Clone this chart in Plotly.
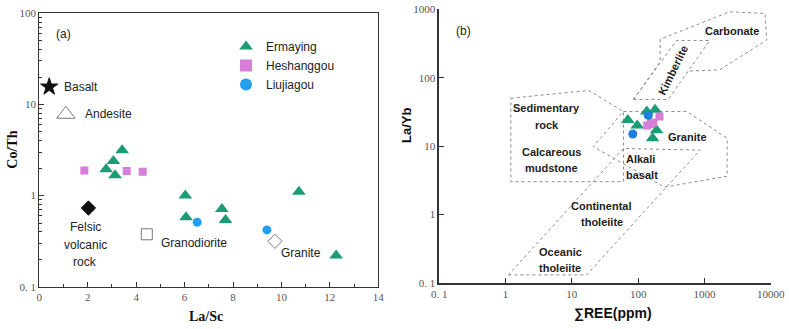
import numpy as np
import plotly.graph_objects as go

# ---------------- Panel (a): La/Sc vs Co/Th ----------------
erm_a_x = [2.76, 3.06, 3.13, 3.42, 6.03, 6.06, 7.54, 7.69, 10.72, 12.26]
erm_a_y = [1.95, 2.4, 1.67, 3.15, 1.0, 0.58, 0.71, 0.54, 1.10, 0.22]
hes_a_x = [1.86, 3.61, 4.27]
hes_a_y = [1.88, 1.86, 1.82]
liu_a_x = [6.52, 9.40]
liu_a_y = [0.51, 0.42]

ref_names = ["Basalt", "Andesite", "Felsic volcanic rock", "Granodiorite", "Granite"]
ref_x = [0.41, 1.10, 2.03, 4.44, 9.73]
ref_y = [15.6, 7.8, 0.73, 0.376, 0.315]

# ---------------- Panel (b): ΣREE vs La/Yb ----------------
erm_b_x = [70, 97, 135, 180, 190, 165]
erm_b_y = [24, 20, 32, 34, 17, 13]
hes_b_x = [137, 155, 170, 210]
hes_b_y = [20, 21, 22, 27]
liu_b_x = [83, 142]
liu_b_y = [15, 28]

# field boundaries (ΣREE ppm, La/Yb)
sed_x = [1.2, 18, 60, 60, 1.2, 1.2]
sed_y = [50, 65, 32, 3.0, 3.0, 50]
gra_x = [60, 540, 2200, 2200, 250, 21, 60]
gra_y = [32, 32, 13, 3.6, 2.5, 9.8, 32]
tho_x = [1.1, 16.7, 860, 60, 1.1]
tho_y = [0.13, 0.13, 8.7, 9.2, 0.13]
kim_x = [85, 285, 1200, 380, 85]
kim_y = [48, 48, 350, 350, 48]
carb_x = [85, 215, 215, 2400, 8200, 8700, 1700, 600]
carb_y = [48, 170, 365, 920, 870, 355, 130, 125]

GREEN = "#1b9c74"
PINK = "#d67ed8"
BLUE = "#22a0ef"
BLUE_B = "#1d80e0"
GRAY = "#7a7a7a"
AX = "#333333"
SERIF = "Times New Roman, Liberation Serif, serif"
SANS = "Arial, Liberation Sans, sans-serif"

fig = go.Figure()

# panel (a) sample data
fig.add_trace(go.Scatter(x=erm_a_x, y=erm_a_y, mode="markers", name="Ermaying",
                         marker=dict(symbol="triangle-up", size=12, color=GREEN),
                         xaxis="x", yaxis="y"))
fig.add_trace(go.Scatter(x=hes_a_x, y=hes_a_y, mode="markers", name="Heshanggou",
                         marker=dict(symbol="square", size=8, color=PINK),
                         xaxis="x", yaxis="y"))
fig.add_trace(go.Scatter(x=liu_a_x, y=liu_a_y, mode="markers", name="Liujiagou",
                         marker=dict(symbol="circle", size=9, color=BLUE),
                         xaxis="x", yaxis="y"))

# reference rocks
ref_sym = ["star", "triangle-up-open", "diamond", "square-open", "diamond-open"]
ref_col = ["#111111", GRAY, "#111111", GRAY, GRAY]
ref_size = [13, 16, 11, 11, 11]
for i in range(len(ref_names)):
    fig.add_trace(go.Scatter(x=[ref_x[i]], y=[ref_y[i]], mode="markers", showlegend=False,
                             marker=dict(symbol=ref_sym[i], size=ref_size[i], color=ref_col[i],
                                         line=dict(width=1, color=ref_col[i])),
                             xaxis="x", yaxis="y"))

# panel (b) field boundaries
for px_, py_ in [(sed_x, sed_y), (gra_x, gra_y), (tho_x, tho_y), (kim_x, kim_y), (carb_x, carb_y)]:
    fig.add_trace(go.Scatter(x=px_, y=py_, mode="lines", showlegend=False, hoverinfo="skip",
                             line=dict(color="#8a8a8a", width=1, dash="dot"),
                             xaxis="x2", yaxis="y2"))

fig.add_trace(go.Scatter(x=erm_b_x, y=erm_b_y, mode="markers", showlegend=False,
                         marker=dict(symbol="triangle-up", size=12, color=GREEN),
                         xaxis="x2", yaxis="y2"))
fig.add_trace(go.Scatter(x=hes_b_x, y=hes_b_y, mode="markers", showlegend=False,
                         marker=dict(symbol="square", size=8, color=PINK),
                         xaxis="x2", yaxis="y2"))
fig.add_trace(go.Scatter(x=liu_b_x, y=liu_b_y, mode="markers", showlegend=False,
                         marker=dict(symbol="circle", size=9, color=BLUE_B),
                         xaxis="x2", yaxis="y2"))

W, H = 789, 329
def px(xp):
    return xp / W
def py(yp):
    return 1 - yp / H

tickfont = dict(family=SERIF, size=11, color="#555555")
log_minor = [m * 10.0 ** e for e in range(-1, 2) for m in range(2, 10)]

fig.update_layout(
    autosize=True,
    margin=dict(l=0, r=0, t=0, b=0, autoexpand=False),
    paper_bgcolor="white", plot_bgcolor="white",
    showlegend=True,
    legend=dict(x=px(226), y=py(32), xanchor="left", yanchor="top",
                font=dict(family=SANS, size=12, color="#222222"),
                bgcolor="rgba(0,0,0,0)", tracegroupgap=0, itemsizing="constant"),
    xaxis=dict(domain=[px(39.3), px(378.3)], range=[0, 14], showline=True, linecolor=AX,
               linewidth=1.2, mirror=True, ticks="inside", ticklen=5, tickcolor=AX,
               tickvals=[0, 2, 4, 6, 8, 10, 12, 14], tickfont=tickfont, showgrid=False,
               zeroline=False, anchor="y",
               minor=dict(ticks="inside", ticklen=3, tickcolor=AX, dtick=1, showgrid=False)),
    yaxis=dict(domain=[py(286.7), py(13.3)], type="log", range=[-1, 2], showline=True,
               linecolor=AX, linewidth=1.2, mirror=True, ticks="inside", ticklen=5,
               tickcolor=AX, tickvals=[0.1, 1, 10, 100], ticktext=["0. 1", "1", "10", "100"],
               tickfont=tickfont, showgrid=False, zeroline=False, anchor="x",
               minor=dict(ticks="inside", ticklen=3, tickcolor=AX, tickmode="array",
                          tickvals=log_minor, showgrid=False)),
    xaxis2=dict(domain=[px(439.3), px(770.7)], type="log", range=[-1, 4], showline=True,
                linecolor=AX, linewidth=1.5, ticks="inside", ticklen=5, tickcolor=AX,
                tickvals=[0.1, 1, 10, 100, 1000, 10000],
                ticktext=["0. 1", "1", "10", "100", "1000", "10000"],
                tickfont=tickfont, showgrid=False, zeroline=False, anchor="y2"),
    yaxis2=dict(domain=[py(282.7), py(9.3)], type="log", range=[-1, 3], showline=True,
                linecolor=AX, linewidth=1.5, ticks="inside", ticklen=5, tickcolor=AX,
                tickvals=[0.1, 1, 10, 100, 1000],
                ticktext=["0. 1", "1", "10", "100", "1000"],
                tickfont=tickfont, showgrid=False, zeroline=False, anchor="x2"),
)

ann = []
def lab(text, x, y, xref, yref, size=12, bold=False, family=SANS, xanchor="center",
        angle=0, color="#222222"):
    t = "<b>%s</b>" % text if bold else text
    ann.append(dict(text=t, x=x, y=y, xref=xref, yref=yref, showarrow=False,
                    xanchor=xanchor, yanchor="middle", textangle=angle,
                    font=dict(family=family, size=size, color=color)))

# panel (a) labels (y in log10 units)
lab("(a)", 0.98, np.log10(60), "x", "y")
lab("Basalt", 0.95, np.log10(15.6), "x", "y", xanchor="left")
lab("Andesite", 1.8, np.log10(7.8), "x", "y", xanchor="left")
lab("Felsic", 1.89, (195.3 - 227) / 91, "x", "y")
lab("volcanic", 1.89, (195.3 - 244.5) / 91, "x", "y")
lab("rock", 1.89, (195.3 - 262) / 91, "x", "y")
lab("Granodiorite", 4.95, np.log10(0.30), "x", "y", xanchor="left")
lab("Granite", 9.9, np.log10(0.232), "x", "y", xanchor="left")

# panel (b) labels
lab("(b)", -0.638, 2.687, "x2", "y2")
lab("Carbonate", 3.421, 2.687, "x2", "y2", size=11, bold=True)
lab("Kimberlite", 2.526, 2.112, "x2", "y2", size=11, bold=True, angle=-64)
lab("Sedimentary", 0.62, 1.552, "x2", "y2", size=11, bold=True)
lab("rock", 0.62, 1.307, "x2", "y2", size=11, bold=True)
lab("Calcareous", 0.696, 0.917, "x2", "y2", size=11, bold=True)
lab("mudstone", 0.696, 0.674, "x2", "y2", size=11, bold=True)
lab("Granite", 2.742, 1.136, "x2", "y2", size=11, bold=True)
lab("Alkali", 1.787, 0.81, "x2", "y2", size=11, bold=True, xanchor="left")
lab("basalt", 1.787, 0.576, "x2", "y2", size=11, bold=True, xanchor="left")
lab("Continental", 1.45, 0.127, "x2", "y2", size=11, bold=True)
lab("tholeiite", 1.45, -0.116, "x2", "y2", size=11, bold=True)
lab("Oceanic", 0.821, -0.546, "x2", "y2", size=11, bold=True)
lab("tholeiite", 0.821, -0.781, "x2", "y2", size=11, bold=True)

# axis titles
lab("Co/Th", px(11.7), py(150), "paper", "paper", size=14, bold=True, family=SERIF, angle=-90,
    color="#111111")
lab("La/Sc", px(206), py(316.7), "paper", "paper", size=14, bold=True, family=SERIF,
    color="#111111")
lab("La/Yb", px(406), py(126), "paper", "paper", size=13, bold=True, angle=-90, color="#111111")
lab("∑REE(ppm)", px(613.3), py(313.3), "paper", "paper", size=14, bold=True, color="#111111")

fig.update_layout(annotations=ann)
fig.write_html("out.html",
               config=dict(displayModeBar=False, responsive=False),
               default_width="%dpx;position:fixed;left:0;top:0;margin:0" % W,
               default_height="%dpx" % H,
               post_script="document.body.style.margin='0';document.body.style.overflow='hidden';")
